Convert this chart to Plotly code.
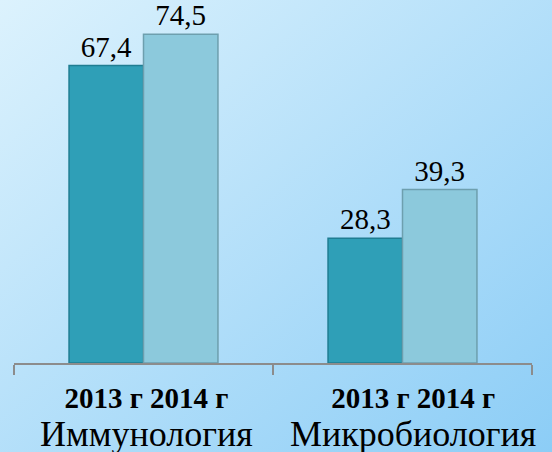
import base64
import plotly.graph_objects as go

categories = ["Иммунология", "Микробиология"]
years = ["2013 г", "2014 г"]
values_2013 = [67.4, 28.3]
values_2014 = [74.5, 39.3]

colors = ["#2f9fb7", "#8cc9dc"]
outlines = ["#1f7d92", "#6e9fae"]
SERIF = "Liberation Serif, Times New Roman, serif"

W, H = 552, 452
plot_l, plot_r, plot_t, plot_b = 14, 532, 10, 363

svg = (
    f'<svg xmlns="http://www.w3.org/2000/svg" width="{W}" height="{H}">'
    '<defs><linearGradient id="g" x1="0" y1="0" x2="1" y2="1">'
    '<stop offset="0" stop-color="#dcf2fd"/>'
    '<stop offset="1" stop-color="#8ccdf6"/>'
    '</linearGradient></defs>'
    f'<rect width="{W}" height="{H}" fill="url(#g)"/></svg>'
)
bg_uri = "data:image/svg+xml;base64," + base64.b64encode(svg.encode()).decode()


def fmt(v):
    return f"{v:.1f}".replace(".", ",")


fig = go.Figure()
for yr, vals, c, oc in zip(years, [values_2013, values_2014], colors, outlines):
    fig.add_trace(go.Bar(
        x=categories, y=vals, name=yr,
        marker=dict(color=c, line=dict(color=oc, width=1.5)),
        text=[fmt(v) for v in vals], textposition="outside",
        textfont=dict(family=SERIF, size=29, color="#000000"),
        cliponaxis=False,
    ))

label_shift = [3, 10]
for cat, sh in zip(categories, label_shift):
    fig.add_annotation(
        x=cat, xref="x", y=0, yref="paper",
        yshift=-17, yanchor="top", xshift=sh,
        text="<b>" + " ".join(years) + "</b><br>"
             + "<span style='font-size:36px'>" + cat + "</span>",
        showarrow=False, align="center",
        font=dict(family=SERIF, size=29, color="#000000"),
    )

fig.update_layout(
    width=W, height=H,
    margin=dict(l=plot_l, r=W - plot_r, t=plot_t, b=H - plot_b, pad=0),
    paper_bgcolor="rgba(0,0,0,0)", plot_bgcolor="rgba(0,0,0,0)",
    barmode="group", bargap=0.425, bargroupgap=0,
    showlegend=False,
    images=[dict(source=bg_uri, xref="paper", yref="paper",
                 x=-plot_l / (plot_r - plot_l), y=1 + plot_t / (plot_b - plot_t),
                 sizex=W / (plot_r - plot_l), sizey=H / (plot_b - plot_t),
                 xanchor="left", yanchor="top", sizing="stretch", layer="below")],
    xaxis=dict(type="category", range=[-0.5, 1.5], showticklabels=False,
               showline=True, linecolor="#8c8c8c", linewidth=1.5,
               ticks="outside", tickson="boundaries", ticklen=10,
               tickcolor="#8c8c8c", tickwidth=1.5, showgrid=False),
    yaxis=dict(range=[0, 80], visible=False, showgrid=False, zeroline=False),
)

fig.write_html(
    "out.html",
    config={"displayModeBar": False},
    post_script="document.body.style.margin='0';document.body.style.overflow='hidden';",
)
